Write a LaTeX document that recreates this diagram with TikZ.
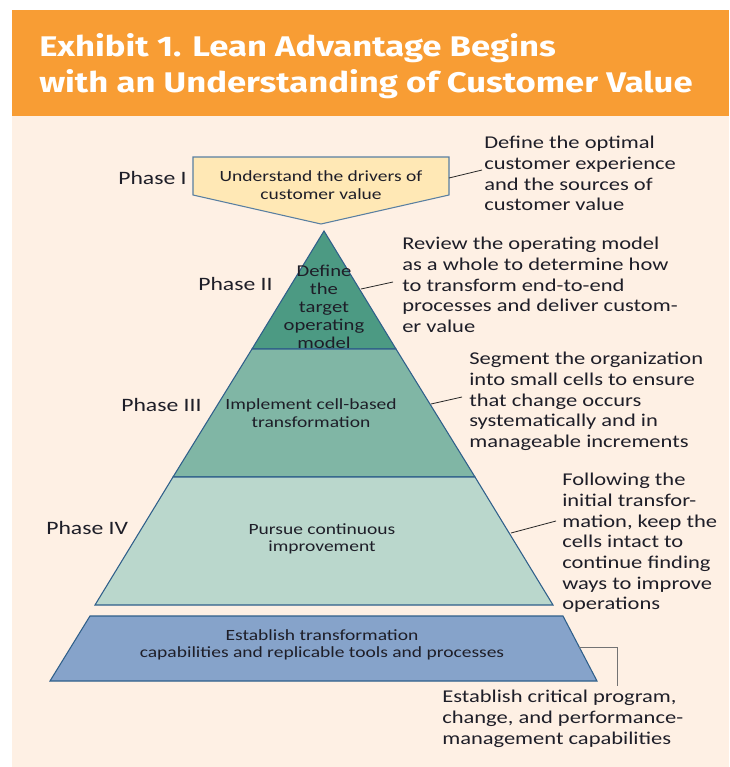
\documentclass[tikz,border=0pt]{standalone}
\usepackage{fontspec}
\setmainfont{Carlito}[FakeStretch=1.25]
\newfontfamily\titlefont{Fira Sans}[FakeStretch=1.22]

\definecolor{hdrorange}{HTML}{F89D34}
\definecolor{cream}{HTML}{FEF0E4}
\definecolor{driverfill}{HTML}{FFE8B5}
\definecolor{tealdark}{HTML}{4C9A83}
\definecolor{tealmid}{HTML}{80B6A5}
\definecolor{teallight}{HTML}{BAD7CC}
\definecolor{basefill}{HTML}{86A3CA}
\definecolor{edgeblue}{HTML}{2F5F8A}
\definecolor{inktext}{HTML}{1E1E28}

\begin{document}
\begin{tikzpicture}[x=0.75pt, y=-0.75pt,
  tier/.style={draw=edgeblue, line width=0.8pt, line join=miter},
  phase/.style={font=\fontsize{14.2}{16}\selectfont, text=inktext, anchor=west, inner sep=0pt},
  inner/.style={font=\fontsize{11.7}{13.2}\selectfont, text=inktext, align=center, inner sep=0pt},
  note/.style={font=\fontsize{13.5}{15.5}\selectfont, text=inktext, align=left, anchor=north west, inner sep=0pt},
  leader/.style={draw=black!85, line width=0.6pt}]
  \useasboundingbox (0,0) rectangle (729,767);

  % Background and header band
  \fill[cream] (12,116) rectangle (729,767);
  \fill[hdrorange] (12,10) rectangle (729,116);
  \node[font=\titlefont\bfseries\fontsize{21.3}{27}\selectfont, text=white, align=left, anchor=north west, inner sep=0pt]
    (title) at (39,33) {Exhibit 1. Lean Advantage Begins\\with an Understanding of Customer Value};

  % Phase I: pentagon pointing down
  \draw[tier, draw=edgeblue!80, fill=driverfill] (193,157) -- (449,157) -- (449,195) -- (321,224) -- (193,195) -- cycle;
  \node[inner] (drivers) at (321,185) {Understand the drivers of\\customer value};

  % Pyramid tiers (apex at 324,231)
  \draw[tier, fill=tealdark] (324,231) -- (396,349) -- (252,349) -- cycle;
  \draw[tier, fill=tealmid] (252,349) -- (396,349) -- (475,477) -- (173,477) -- cycle;
  \draw[tier, fill=teallight] (173,477) -- (475,477) -- (553,605) -- (95,605) -- cycle;
  \draw[tier, fill=basefill] (90,616) -- (563,616) -- (597,681) -- (50,681) -- cycle;

  \node[inner, font=\fontsize{12.4}{13.4}\selectfont] (target) at (324,307) {Define\\the\\target\\operating\\model};
  \node[inner] (cells) at (311,413) {Implement cell-based\\transformation};
  \node[inner] (improve) at (322,539) {Pursue continuous\\improvement};
  \node[inner] (capab) at (322,645) {Establish transformation\\capabilities and replicable tools and processes};

  % Phase labels
  \node[phase] (ph1) at (118,178) {Phase I};
  \node[phase] (ph2) at (198,284) {Phase II};
  \node[phase] (ph3) at (121,405) {Phase III};
  \node[phase] (ph4) at (46,528) {Phase IV};

  % Callouts
  \node[note] (n1) at (484,136) {Define the optimal\\customer experience\\and the sources of\\customer value};
  \node[note] (n2) at (402,237) {Review the operating model\\as a whole to determine how\\to transform end-to-end\\processes and deliver custom-\\er value};
  \node[note] (n3) at (469,352) {Segment the organization\\into small cells to ensure\\that change occurs\\systematically and in\\manageable increments};
  \node[note] (n4) at (562,473) {Following the\\initial transfor-\\mation, keep the\\cells intact to\\continue finding\\ways to improve\\operations};
  \node[note] (n5) at (442,690) {Establish critical program,\\change, and performance-\\management capabilities};

  % Leader lines
  \coordinate (e1) at (449,178);
  \coordinate (e2) at (361,289);
  \coordinate (e3) at (431,404);
  \coordinate (e4) at (511,533);
  \coordinate (e5) at (579,647);
  \coordinate (t1) at (482,170);
  \coordinate (t2) at (393,282);
  \coordinate (t3) at (462,397);
  \coordinate (t4) at (556,521);
  \coordinate (t5) at (617,686);
  \draw[leader] (e1) -- (t1);
  \draw[leader] (e2) -- (t2);
  \draw[leader] (e3) -- (t3);
  \draw[leader] (e4) -- (t4);
  \draw[leader, draw=black!55] (e5) -| (t5);
\end{tikzpicture}
\end{document}
